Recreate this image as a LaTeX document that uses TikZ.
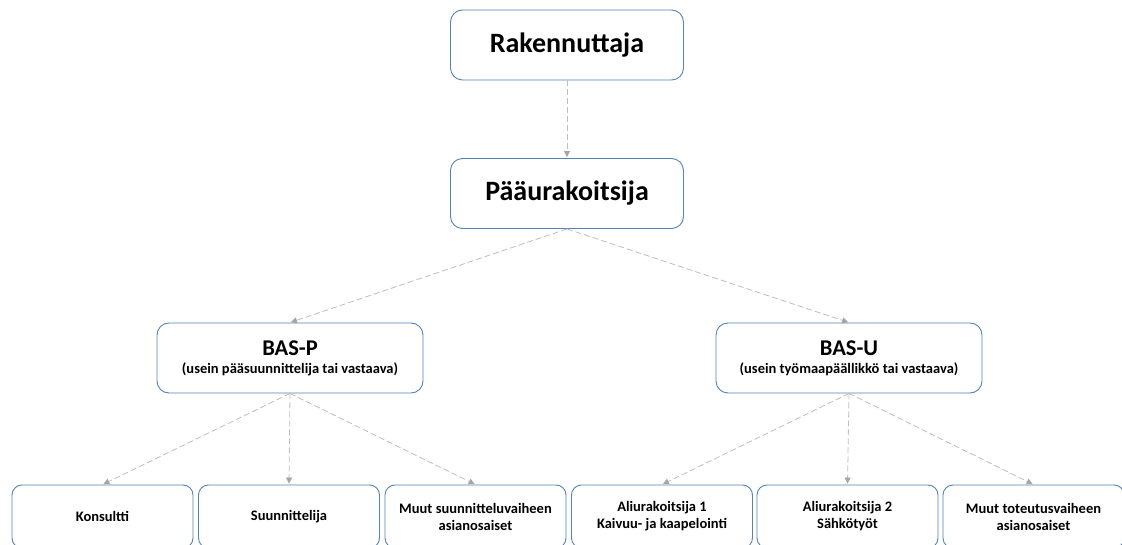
\documentclass[tikz,border=0pt]{standalone}
\usepackage{fontspec}
\setmainfont{Carlito}
\usetikzlibrary{arrows.meta}
\definecolor{boxblue}{RGB}{84,130,186}
\definecolor{lngray}{RGB}{190,190,190}
\definecolor{tipgray}{RGB}{165,165,165}
\tikzset{
  topbox/.style={draw=boxblue, line width=0.9pt, rounded corners=12pt, fill=white,
    minimum width=233pt, minimum height=70pt, inner sep=0pt, align=center,
    font=\bfseries\fontsize{28}{32}\selectfont},
  midbox/.style={draw=boxblue, line width=0.9pt, rounded corners=12pt, fill=white,
    minimum width=266pt, minimum height=70pt, inner sep=0pt, align=center},
  lowbox/.style={draw=boxblue, line width=0.9pt, rounded corners=10pt, fill=white,
    minimum width=181pt, minimum height=63pt, inner sep=0pt, align=center,
    font=\bfseries\fontsize{14.5}{17}\selectfont},
  conn/.style={draw=lngray, line width=0.8pt, dash pattern=on 6pt off 3pt,
    -{Triangle[length=6pt,width=6pt,fill=tipgray,color=tipgray,sep=0pt]}, shorten >=1pt},
}
\newcommand{\bastitle}[2]{{\bfseries\fontsize{22.5}{25}\selectfont #1}\\[6pt]{\bfseries\fontsize{14.5}{16}\selectfont #2}}
\begin{document}
\begin{tikzpicture}[x=1pt,y=-1pt]
\useasboundingbox (0,0) rectangle (1122,545);
\clip (0,0) rectangle (1122,545);
\node[topbox] (rak) at (567,45) {Rakennuttaja};
\node[topbox] (paa) at (567,193.5) {Pääurakoitsija};
\node[midbox] (basp) at (290,358) {\bastitle{BAS-P}{(usein pääsuunnittelija tai vastaava)}};
\node[midbox] (basu) at (849,358) {\bastitle{BAS-U}{(usein työmaapäällikkö tai vastaava)}};
\node[lowbox] (kon) at (102.5,516.5) {Konsultti};
\node[lowbox] (suu) at (289,516.5) {Suunnittelija};
\node[lowbox] (msv) at (475.5,516.5) {Muut suunnitteluvaiheen\\asianosaiset};
\node[lowbox] (al1) at (662,516.5) {Aliurakoitsija 1\\Kaivuu- ja kaapelointi};
\node[lowbox] (al2) at (847.5,516.5) {Aliurakoitsija 2\\Sähkötyöt};
\node[lowbox] (mtv) at (1033.5,516.5) {Muut toteutusvaiheen\\asianosaiset};
\draw[conn] (rak.south) -- (paa.north);
\draw[conn] (paa.south) -- (basp.north);
\draw[conn] (paa.south) -- (basu.north);
\draw[conn] (basp.south) -- (kon.north);
\draw[conn] (basp.south) -- (suu.north);
\draw[conn] (basp.south) -- (msv.north);
\draw[conn] (basu.south) -- (al1.north);
\draw[conn] (basu.south) -- (al2.north);
\draw[conn] (basu.south) -- (mtv.north);
\end{tikzpicture}
\end{document}
